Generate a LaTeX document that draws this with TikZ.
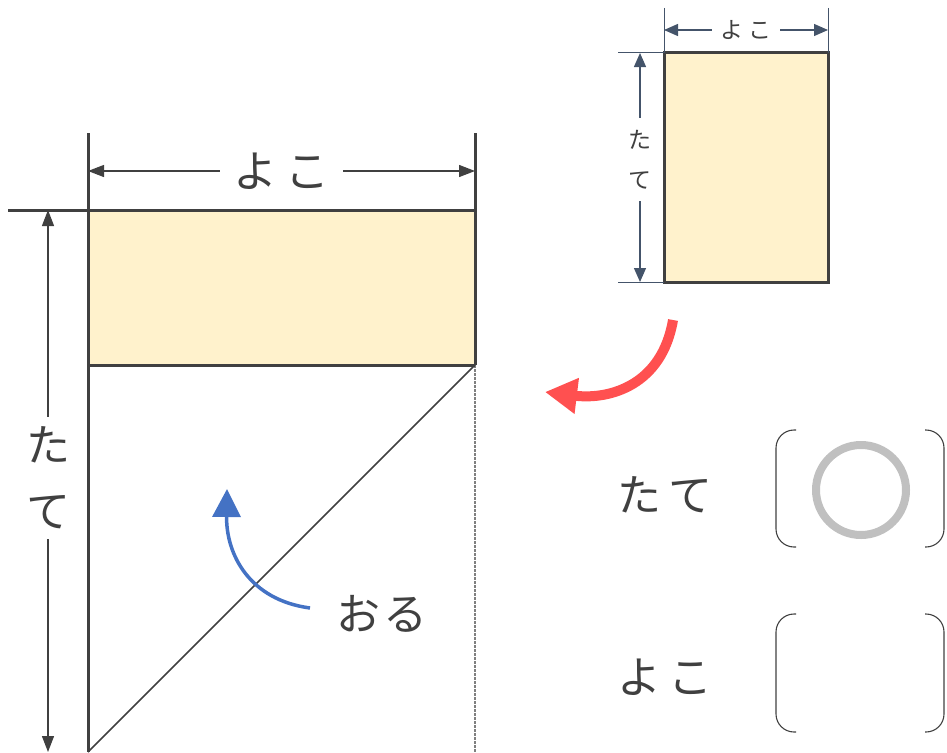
\documentclass[tikz,border=0pt]{standalone}
\usepackage{fontspec}
\usepackage{xcolor}
\usetikzlibrary{arrows.meta, positioning}
\newfontfamily\jpfont{Noto Sans CJK JP}
\definecolor{papercream}{RGB}{255, 242, 204}
\definecolor{edgegray}{RGB}{64, 64, 64}
\definecolor{dimslate}{RGB}{68, 84, 106}
\definecolor{foldred}{RGB}{255, 80, 80}
\definecolor{foldblue}{RGB}{68, 114, 196}
\definecolor{markgray}{RGB}{192, 192, 192}
\tikzset{
    jptext/.style={font=\jpfont\fontsize{44}{66}\selectfont, text=edgegray},
    smalljp/.style={font=\jpfont\fontsize{23}{40}\selectfont, text=edgegray},
    bigdim/.style={edgegray, line width=1.3pt, {Triangle[length=16pt,width=12pt]}-{Triangle[length=16pt,width=12pt]}},
    smalldim/.style={dimslate, line width=1.3pt, {Triangle[length=14pt,width=12pt]}-{Triangle[length=14pt,width=12pt]}},
    paper/.style={draw=edgegray, line width=3pt},
    bracketline/.style={edgegray, line width=1.1pt, rounded corners=18pt}
}
\begin{document}
\begin{tikzpicture}[x=1pt, y=-1pt]
    \useasboundingbox (0,0) rectangle (947,752);
    % big sheet
    \coordinate (TL) at (88,210);
    \coordinate (TR) at (475,210);
    \coordinate (ML) at (88,365);
    \coordinate (MR) at (475,365);
    \coordinate (BL) at (88,752);
    \coordinate (BR) at (475,752);
    \fill[papercream] (TL) rectangle (MR);
    \draw[gray, line width=1.5pt, dash pattern=on 2.5pt off 1.5pt] (MR) -- (BR);
    \draw[edgegray, line width=1.6pt] (BL) -- (MR);
    \draw[paper] (88,133) -- (BL);
    \draw[paper] (475,133) -- (MR);
    \draw[paper] (8,210) -- (TR);
    \draw[paper] (ML) -- (MR);
    % big dimensions
    \draw[bigdim] (88,171) -- (475,171)
        node[midway, fill=white, inner xsep=14pt, jptext] (bigyoko) {よ\,こ};
    \draw[bigdim] (48,210) -- (48,752)
        node[pos=0.494, fill=white, inner ysep=10pt, align=center, jptext] (bigtate) {た\\て};
    % small sheet
    \coordinate (sTL) at (664,53);
    \coordinate (sBR) at (828,282);
    \draw[paper, fill=papercream] (sTL) rectangle (sBR);
    \draw[dimslate, line width=1pt] (664,8) -- (sTL);
    \draw[dimslate, line width=1pt] (828,8) -- (828,53);
    \draw[dimslate, line width=1pt] (618,53) -- (sTL);
    \draw[dimslate, line width=1pt] (618,282) -- (664,282);
    \draw[smalldim] (664,30) -- (828,30)
        node[midway, fill=white, inner xsep=8pt, smalljp] (smallyoko) {よ\hspace{6pt}こ};
    \draw[smalldim] (640,53) -- (640,282)
        node[pos=0.467, fill=white, inner ysep=12pt, align=center, smalljp] (smalltate) {た\\て};
    % fold arrows
    \coordinate (redstart) at (673,320);
    \coordinate (redend) at (545,392);
    \draw[foldred, line width=10pt, -{Triangle[length=32pt,width=34pt]}]
        (redstart) .. controls (662,385) and (610,400) .. (redend);
    \coordinate (bluestart) at (310,608);
    \coordinate (blueend) at (227,489);
    \draw[foldblue, line width=3.5pt, -{Triangle[length=28pt,width=28pt]}]
        (bluestart) .. controls (250,600) and (226,555) .. (blueend);
    \node[jptext] (oru) at (382,614) {お\hspace{3pt}る};
    % answers
    \node[jptext] (anstate) at (665,495) {た\hspace{8pt}て};
    \node[jptext] (ansyoko) at (665,677) {よ\hspace{8pt}こ};
    \foreach \ytop/\ybot in {430/547, 614/732} {
        \draw[bracketline] (796,\ytop) -- (776,\ytop) -- (776,\ybot) -- (796,\ybot);
        \draw[bracketline] (925,\ytop) -- (944,\ytop) -- (944,\ybot) -- (925,\ybot);
    }
    \draw[markgray, line width=8pt] (861,490) circle (45);
\end{tikzpicture}
\end{document}
